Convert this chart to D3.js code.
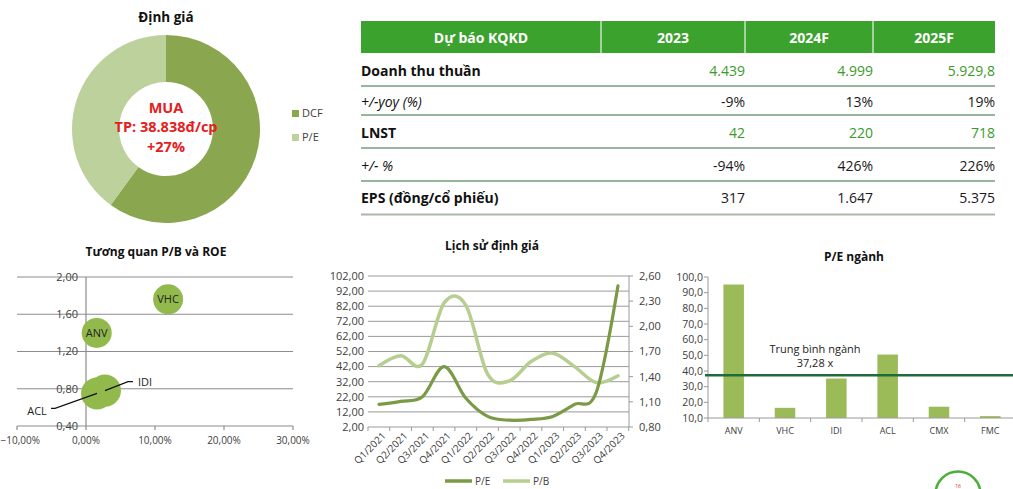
<!DOCTYPE html>
<html><head><meta charset="utf-8">
<script src="https://cdn.jsdelivr.net/npm/d3@7"></script>
<style>
html,body{margin:0;padding:0;background:#fff;overflow:hidden}
svg{display:block;font-family:"Open Sans",sans-serif}
</style></head><body>
<svg id="c" width="1013" height="489"></svg>
<script>
// ---------------- DATA ----------------
const valuationMethods = ["DCF", "P/E"];
const valuationWeights = [60, 40];
const valuationCall = ["MUA", "TP: 38.838đ/cp", "+27%"];

const tableHeader = ["Dự báo KQKD", "2023", "2024F", "2025F"];
const rowLabels = ["Doanh thu thuần", "+/-yoy (%)", "LNST", "+/- %", "EPS (đồng/cổ phiếu)"];
const rowRevenue = ["4.439", "4.999", "5.929,8"];
const rowRevenueYoY = ["-9%", "13%", "19%"];
const rowProfit = ["42", "220", "718"];
const rowProfitYoY = ["-94%", "426%", "226%"];
const rowEPS = ["317", "1.647", "5.375"];

const peerTickers = ["ANV", "VHC", "ACL", "IDI"];
const peerROE = [1.55, 11.9, 1.6, 2.75];      // %
const peerPB = [1.40, 1.76, 0.75, 0.78];
const peerSize = [15, 15, 16, 16];
const scatterXTicks = [-10, 0, 10, 20, 30];
const scatterYTicks = [0.4, 0.8, 1.2, 1.6, 2.0];

const quarters = ["Q1/2021","Q2/2021","Q3/2021","Q4/2021","Q1/2022","Q2/2022","Q3/2022","Q4/2022","Q1/2023","Q2/2023","Q3/2023","Q4/2023"];
const peHistory = [17, 19, 22, 42, 21, 9, 6.5, 7, 9, 17, 25, 95.5];
const pbHistory = [1.53, 1.65, 1.55, 2.28, 2.25, 1.43, 1.35, 1.58, 1.68, 1.52, 1.33, 1.41];
const peTicks = [2, 12, 22, 32, 42, 52, 62, 72, 82, 92, 102];
const pbTicks = [0.8, 1.1, 1.4, 1.7, 2.0, 2.3, 2.6];

const industryTickers = ["ANV", "VHC", "IDI", "ACL", "CMX", "FMC"];
const industryPE = [95.2, 16.5, 35.2, 50.5, 17.2, 11.2];
const industryAvg = 37.28;
const industryTicks = [10, 20, 30, 40, 50, 60, 70, 80, 90, 100];

// ---------------- HELPERS ----------------
const svg = d3.select("#c");
const comma = (f) => (v) => d3.format(f)(v).replace(".", ",");
const AXIS_TXT = "#404040";

// ================= DONUT =================
(function () {
  const cx = 166, cy = 129;
  const colors = ["#8aa64e", "#bcd19b"];
  const g = svg.append("g").attr("transform", `translate(${cx},${cy})`);
  svg.append("text").attr("x", cx).attr("y", 22).attr("text-anchor", "middle")
    .attr("font-size", 13.5).attr("font-weight", 700).attr("fill", "#111").text("Định giá");
  const pie = d3.pie().sort(null).value(d => d)(valuationWeights);
  const arc = d3.arc().innerRadius(47).outerRadius(94);
  g.selectAll("path").data(pie).join("path").attr("d", arc).attr("fill", (d, i) => colors[i]);
  const ys = [-21, -2.5, 17.5];
  g.selectAll("text.c").data(valuationCall).join("text").attr("class", "c")
    .attr("x", 0).attr("y", (d, i) => ys[i]).attr("dy", "0.35em").attr("text-anchor", "middle")
    .attr("font-size", 14.5).attr("font-weight", 700).attr("fill", "#e3201b").text(d => d);
  const lg = svg.append("g");
  valuationMethods.forEach((m, i) => {
    lg.append("rect").attr("x", 292).attr("y", 110 + i * 24).attr("width", 7).attr("height", 7).attr("fill", colors[i]);
    lg.append("text").attr("x", 302).attr("y", 113.5 + i * 24).attr("dy", "0.35em")
      .attr("font-size", 11).attr("fill", AXIS_TXT).text(m);
  });
})();

// ================= TABLE =================
(function () {
  const colEdges = [361, 601, 745, 873, 995];
  const g = svg.append("g");
  g.append("rect").attr("x", colEdges[0]).attr("y", 21).attr("width", colEdges[4] - colEdges[0]).attr("height", 32).attr("fill", "#3ca22e");
  [1, 2, 3].forEach(i => g.append("line").attr("x1", colEdges[i]).attr("x2", colEdges[i]).attr("y1", 21).attr("y2", 53)
    .attr("stroke", "#e8f3e4").attr("stroke-width", 1.2));
  tableHeader.forEach((h, i) => {
    g.append("text").attr("x", (colEdges[i] + colEdges[i + 1]) / 2).attr("y", 38).attr("dy", "0.35em")
      .attr("text-anchor", "middle").attr("font-size", 14).attr("font-weight", 700).attr("fill", "#fff").text(h);
  });
  const rows = [rowRevenue, rowRevenueYoY, rowProfit, rowProfitYoY, rowEPS];
  const rowY = [71, 102, 133, 166, 198];
  const lineY = [86, 115, 148, 181];
  const styles = [
    { w: 700, it: "normal", vc: "#3a9a2a" },
    { w: 400, it: "italic", vc: "#1a1a1a" },
    { w: 700, it: "normal", vc: "#3a9a2a" },
    { w: 400, it: "italic", vc: "#1a1a1a" },
    { w: 700, it: "normal", vc: "#1a1a1a" }
  ];
  rowLabels.forEach((lab, r) => {
    g.append("text").attr("x", colEdges[0]).attr("y", rowY[r]).attr("dy", "0.35em")
      .attr("font-size", 14).attr("font-weight", styles[r].w).attr("font-style", styles[r].it)
      .attr("fill", "#111").text(lab);
    rows[r].forEach((v, c) => {
      g.append("text").attr("x", colEdges[c + 2]).attr("y", rowY[r]).attr("dy", "0.35em")
        .attr("text-anchor", "end").attr("font-size", 14).attr("fill", styles[r].vc).text(v);
    });
  });
  lineY.forEach(y => g.append("line").attr("x1", colEdges[0]).attr("x2", colEdges[4]).attr("y1", y).attr("y2", y)
    .attr("stroke", "#2f6f3a").attr("stroke-width", 1));
  g.append("line").attr("x1", colEdges[0]).attr("x2", colEdges[4]).attr("y1", 214.5).attr("y2", 214.5)
    .attr("stroke", "#a9b8a9").attr("stroke-width", 2);
})();

// ================= SCATTER =================
(function () {
  const x = d3.scaleLinear().domain([-10, 30]).range([17, 293]);
  const y = d3.scaleLinear().domain([0.4, 2.0]).range([426, 277]);
  const g = svg.append("g");
  svg.append("text").attr("x", 156).attr("y", 252).attr("dy", "0.35em").attr("text-anchor", "middle")
    .attr("font-size", 12).attr("font-weight", 700).attr("fill", "#111").text("Tương quan P/B và ROE");
  g.selectAll("line.grid").data(scatterYTicks).join("line").attr("class", "grid")
    .attr("x1", x(-10)).attr("x2", x(30)).attr("y1", d => y(d)).attr("y2", d => y(d))
    .attr("stroke", "#8c8c8c").attr("stroke-width", 1.2);
  g.append("line").attr("x1", x(0)).attr("x2", x(0)).attr("y1", y(2.0)).attr("y2", y(0.4))
    .attr("stroke", "#8c8c8c").attr("stroke-width", 1.2);
  g.selectAll("line.xt").data(scatterXTicks).join("line").attr("class", "xt")
    .attr("x1", d => x(d)).attr("x2", d => x(d)).attr("y1", y(0.4)).attr("y2", y(0.4) + 4)
    .attr("stroke", "#8c8c8c").attr("stroke-width", 1.2);
  g.selectAll("text.yl").data(scatterYTicks).join("text").attr("class", "yl")
    .attr("x", x(0) - 8).attr("y", d => y(d)).attr("dy", "0.35em").attr("text-anchor", "end")
    .attr("font-size", 11).attr("fill", AXIS_TXT).text(comma(".2f"));
  g.selectAll("text.xl").data(scatterXTicks).join("text").attr("class", "xl")
    .attr("x", d => x(d)).attr("y", 440).attr("dy", "0.35em").attr("text-anchor", "middle")
    .attr("font-size", 10).attr("fill", AXIS_TXT).text(d => comma(".2f")(d) + "%")
    .each(function () {
      const bb = this.getBBox();
      if (bb.x < 0.5) d3.select(this).attr("x", +d3.select(this).attr("x") - bb.x + 0.5);
    });
  const r = d3.scaleLinear().domain([0, 16]).range([0, 16]);
  const pts = peerTickers.map((t, i) => ({ t, cx: x(peerROE[i]), cy: y(peerPB[i]), r: r(peerSize[i]) }));
  g.selectAll("circle").data(pts).join("circle").attr("cx", d => d.cx).attr("cy", d => d.cy).attr("r", d => d.r)
    .attr("fill", "#92b94b");
  const inside = pts.filter(d => d.t === "ANV" || d.t === "VHC");
  g.selectAll("text.bl").data(inside).join("text").attr("class", "bl")
    .attr("x", d => d.cx).attr("y", d => d.cy).attr("dy", "0.35em").attr("text-anchor", "middle")
    .attr("font-size", 11).attr("fill", "#222").text(d => d.t);
  const acl = pts.find(d => d.t === "ACL"), idi = pts.find(d => d.t === "IDI");
  g.append("path").attr("d", `M${acl.cx - 46},${acl.cy + 15}H${acl.cx - 42}L${acl.cx},${acl.cy}`)
    .attr("fill", "none").attr("stroke", "#111").attr("stroke-width", 1.2);
  g.append("text").attr("x", acl.cx - 60).attr("y", acl.cy + 18).attr("dy", "0.35em").attr("text-anchor", "middle")
    .attr("font-size", 11).attr("fill", "#222").text("ACL");
  g.append("path").attr("d", `M${idi.cx + 28},${idi.cy - 9}H${idi.cx + 23}L${idi.cx},${idi.cy}`)
    .attr("fill", "none").attr("stroke", "#111").attr("stroke-width", 1.2);
  g.append("text").attr("x", idi.cx + 33).attr("y", idi.cy - 8).attr("dy", "0.35em").attr("text-anchor", "start")
    .attr("font-size", 11).attr("fill", "#222").text("IDI");
})();

// ================= LINE CHART =================
(function () {
  const x = d3.scalePoint().domain(quarters).range([379, 618]);
  const yL = d3.scaleLinear().domain([2, 102]).range([427, 276]);
  const yR = d3.scaleLinear().domain([0.8, 2.6]).range([427, 276]);
  const left = 368, right = 629;
  const g = svg.append("g");
  svg.append("text").attr("x", 492).attr("y", 246).attr("dy", "0.35em").attr("text-anchor", "middle")
    .attr("font-size", 12).attr("font-weight", 700).attr("fill", "#111").text("Lịch sử định giá");
  g.selectAll("line.grid").data(peTicks).join("line").attr("class", "grid")
    .attr("x1", left).attr("x2", right).attr("y1", d => yL(d)).attr("y2", d => yL(d))
    .attr("stroke", "#9a9a9a").attr("stroke-width", 1);
  g.selectAll("text.yl").data(peTicks).join("text").attr("class", "yl")
    .attr("x", 364).attr("y", d => yL(d)).attr("dy", "0.35em").attr("text-anchor", "end")
    .attr("font-size", 11).attr("fill", AXIS_TXT).text(comma(".2f"));
  g.append("line").attr("x1", right).attr("x2", right).attr("y1", 276).attr("y2", 427).attr("stroke", "#9a9a9a");
  g.selectAll("line.rt").data(pbTicks).join("line").attr("class", "rt")
    .attr("x1", right).attr("x2", right + 4).attr("y1", d => yR(d)).attr("y2", d => yR(d)).attr("stroke", "#9a9a9a");
  g.selectAll("text.rl").data(pbTicks).join("text").attr("class", "rl")
    .attr("x", 639).attr("y", d => yR(d)).attr("dy", "0.35em").attr("text-anchor", "start")
    .attr("font-size", 11).attr("fill", AXIS_TXT).text(comma(".2f"));
  const step = x.step();
  const edges = d3.range(quarters.length + 1).map(i => left + i * step);
  g.selectAll("line.xt").data(edges).join("line").attr("class", "xt")
    .attr("x1", d => d).attr("x2", d => d).attr("y1", 427).attr("y2", 431).attr("stroke", "#9a9a9a");
  g.selectAll("text.xl").data(quarters).join("text").attr("class", "xl")
    .attr("transform", d => `translate(${x(d) + 5},${434}) rotate(-45)`)
    .attr("dy", "0.35em").attr("text-anchor", "end").attr("font-size", 10).attr("fill", AXIS_TXT).text(d => d);
  const curve = d3.curveCardinal.tension(0);
  const pbLine = d3.line().x((d, i) => x(quarters[i])).y(d => yR(d)).curve(curve);
  const peLine = d3.line().x((d, i) => x(quarters[i])).y(d => yL(d)).curve(curve);
  g.append("path").attr("d", pbLine(pbHistory)).attr("fill", "none").attr("stroke", "#b6cf90").attr("stroke-width", 3.5).attr("stroke-linecap", "round");
  g.append("path").attr("d", peLine(peHistory)).attr("fill", "none").attr("stroke", "#7a9a45").attr("stroke-width", 3.2).attr("stroke-linecap", "round");
  const lg = [{ n: "P/E", c: "#7a9a45", x: 445 }, { n: "P/B", c: "#b6cf90", x: 503 }];
  lg.forEach(l => {
    g.append("line").attr("x1", l.x).attr("x2", l.x + 27).attr("y1", 481).attr("y2", 481).attr("stroke", l.c).attr("stroke-width", 3.5);
    g.append("text").attr("x", l.x + 30).attr("y", 481).attr("dy", "0.35em").attr("font-size", 10).attr("fill", AXIS_TXT).text(l.n);
  });
})();

// ================= BAR CHART =================
(function () {
  const x = d3.scaleBand().domain(industryTickers).range([708, 1016]).paddingInner(0.6).paddingOuter(0.3);
  const y = d3.scaleLinear().domain([10, 100]).range([418, 277]);
  const g = svg.append("g");
  svg.append("text").attr("x", 854).attr("y", 257).attr("dy", "0.35em").attr("text-anchor", "middle")
    .attr("font-size", 12).attr("font-weight", 700).attr("fill", "#111").text("P/E ngành");
  g.selectAll("rect").data(industryPE).join("rect")
    .attr("x", (d, i) => x(industryTickers[i])).attr("width", x.bandwidth())
    .attr("y", d => y(d)).attr("height", d => y(10) - y(d)).attr("fill", "#9bbb59");
  g.append("line").attr("x1", 708).attr("x2", 708).attr("y1", 277).attr("y2", 418).attr("stroke", "#999");
  g.append("line").attr("x1", 708).attr("x2", 1013).attr("y1", 418).attr("y2", 418).attr("stroke", "#999");
  g.selectAll("line.yt").data(industryTicks).join("line").attr("class", "yt")
    .attr("x1", 704).attr("x2", 708).attr("y1", d => y(d)).attr("y2", d => y(d)).attr("stroke", "#999");
  const bandStart = 708, bandStep = 308 / industryTickers.length;
  g.selectAll("line.xt").data(d3.range(industryTickers.length + 1)).join("line").attr("class", "xt")
    .attr("x1", i => bandStart + i * bandStep).attr("x2", i => bandStart + i * bandStep)
    .attr("y1", 418).attr("y2", 422).attr("stroke", "#999");
  g.selectAll("text.yl").data(industryTicks).join("text").attr("class", "yl")
    .attr("x", 703).attr("y", d => y(d)).attr("dy", "0.35em").attr("text-anchor", "end")
    .attr("font-size", 10.5).attr("fill", AXIS_TXT).text(comma(".1f"));
  g.selectAll("text.xl").data(industryTickers).join("text").attr("class", "xl")
    .attr("x", d => x(d) + x.bandwidth() / 2).attr("y", 431).attr("dy", "0.35em").attr("text-anchor", "middle")
    .attr("font-size", 9).attr("fill", AXIS_TXT).text(d => d);
  g.append("line").attr("x1", 705).attr("x2", 1013).attr("y1", y(industryAvg)).attr("y2", y(industryAvg))
    .attr("stroke", "#1f6b3b").attr("stroke-width", 2.5);
  g.append("text").attr("x", 815).attr("y", 349).attr("dy", "0.35em").attr("text-anchor", "middle")
    .attr("font-size", 11).attr("fill", "#222").text("Trung bình ngành");
  g.append("text").attr("x", 815).attr("y", 363).attr("dy", "0.35em").attr("text-anchor", "middle")
    .attr("font-size", 11).attr("fill", "#222").text(comma(".2f")(industryAvg) + " x");
})();

// page badge
svg.append("circle").attr("cx", 958).attr("cy", 494).attr("r", 22.5).attr("fill", "#fff").attr("stroke", "#4caf3a").attr("stroke-width", 2.5);
svg.append("text").attr("x", 958).attr("y", 488).attr("text-anchor", "middle").attr("font-size", 5).attr("fill", "#e3201b").text("16");
</script>
</body></html>
